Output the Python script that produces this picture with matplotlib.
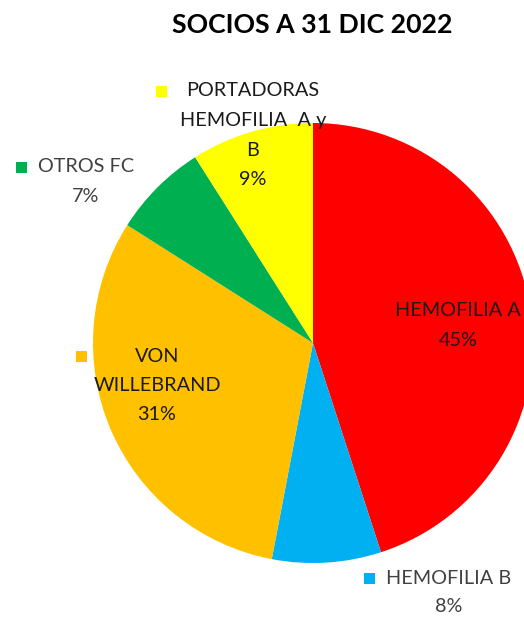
import matplotlib
matplotlib.use("Agg")
import matplotlib.pyplot as plt
from matplotlib.patches import Rectangle

title = "SOCIOS A 31 DIC 2022"
categories = ["HEMOFILIA A", "HEMOFILIA B", "VON WILLEBRAND", "OTROS FC",
              "PORTADORAS HEMOFILIA A y B"]
values = [45, 8, 31, 7, 9]
colors = ["#FF0000", "#00B0F0", "#FFC000", "#00B050", "#FFFF00"]
# category names wrapped as shown in the data labels
label_lines = [["HEMOFILIA A"], ["HEMOFILIA B"], ["VON", "WILLEBRAND"], ["OTROS FC"],
               ["PORTADORAS", "HEMOFILIA  A y", "B"]]

W, H = 524, 617
FONT = "Lato"
fig = plt.figure(figsize=(W / 100, H / 100), dpi=100)
ax = fig.add_axes([0, 0, 1, 1])

def Y(py):
    return H - py

cx, cy, r = 313, 343, 220
ax.pie(values, colors=colors, startangle=90, counterclock=False,
       center=(cx, Y(cy)), radius=r,
       wedgeprops=dict(edgecolor="none", linewidth=0))
ax.set_xlim(0, W)
ax.set_ylim(0, H)
ax.set_aspect("equal")
ax.axis("off")

ax.text(312, Y(25), title, ha="center", va="center", fontsize=19.2,
        fontweight="bold", family=FONT, color="black")

# layout: (x center of text block, y of first line, line spacing, marker x or None, text color)
layout = [
    (458, 311, 29.5, None, "#1a1a1a"),
    (449, 578, 28, 369, "#404040"),
    (157, 356, 29.5, 81, "#1a1a1a"),
    (86, 167, 29, 21, "#404040"),
    (253, 91, 29.5, 161, "#1a1a1a"),
]
fs = 14.3
for lines, v, col, (x, y0, dy, mx, tc) in zip(label_lines, values, colors, layout):
    all_lines = lines + [f"{v}%"]
    for i, ln in enumerate(all_lines):
        ax.text(x, Y(y0 + i * dy), ln, ha="center", va="center", fontsize=fs,
                family=FONT, color=tc)
    if mx is not None:
        s = 11
        ax.add_patch(Rectangle((mx - s / 2, Y(y0) - s / 2), s, s, facecolor=col,
                               edgecolor="none"))

fig.savefig("out.png", dpi=100)
